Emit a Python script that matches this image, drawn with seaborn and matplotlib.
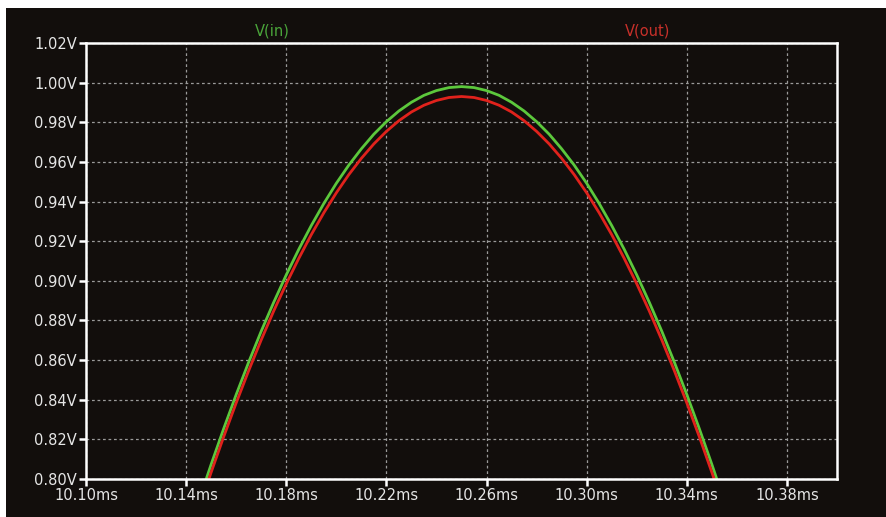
import matplotlib
matplotlib.use("Agg")
import matplotlib.pyplot as plt
import matplotlib.patches as mpatches
import numpy as np
import pandas as pd
import seaborn as sns

# Transient simulation samples around one positive half-cycle
time_ms = [10.145, 10.150, 10.155, 10.160, 10.165, 10.170, 10.175, 10.180,
           10.185, 10.190, 10.195, 10.200, 10.205, 10.210, 10.215, 10.220,
           10.225, 10.230, 10.235, 10.240, 10.245, 10.250, 10.255, 10.260,
           10.265, 10.270, 10.275, 10.280, 10.285, 10.290, 10.295, 10.300,
           10.305, 10.310, 10.315, 10.320, 10.325, 10.330, 10.335, 10.340,
           10.345, 10.350, 10.355]

v_in = [0.7886, 0.8074, 0.8254, 0.8426, 0.8590, 0.8746, 0.8892, 0.9030,
        0.9159, 0.9279, 0.9390, 0.9492, 0.9584, 0.9666, 0.9740, 0.9803,
        0.9857, 0.9901, 0.9936, 0.9960, 0.9975, 0.9980, 0.9975, 0.9960,
        0.9936, 0.9901, 0.9857, 0.9803, 0.9740, 0.9666, 0.9584, 0.9492,
        0.9390, 0.9279, 0.9159, 0.9030, 0.8892, 0.8746, 0.8590, 0.8426,
        0.8254, 0.8074, 0.7886]

v_out = [0.7846, 0.8034, 0.8213, 0.8384, 0.8547, 0.8702, 0.8848, 0.8985,
         0.9113, 0.9233, 0.9343, 0.9444, 0.9536, 0.9618, 0.9691, 0.9754,
         0.9808, 0.9852, 0.9886, 0.9910, 0.9925, 0.9930, 0.9925, 0.9910,
         0.9886, 0.9852, 0.9808, 0.9754, 0.9691, 0.9618, 0.9536, 0.9444,
         0.9343, 0.9233, 0.9113, 0.8985, 0.8848, 0.8702, 0.8547, 0.8384,
         0.8213, 0.8034, 0.7846]

x_ticks = [10.10, 10.14, 10.18, 10.22, 10.26, 10.30, 10.34, 10.38]
y_ticks = [0.80, 0.82, 0.84, 0.86, 0.88, 0.90, 0.92, 0.94, 0.96, 0.98, 1.00, 1.02]
trace_names = ["V(in)", "V(out)"]

BG = "#120e0c"
FG = "#e6e6e6"
GREEN = "#5cc83c"
RED = "#e0221c"

sns.set_style("dark", {
    "axes.facecolor": BG,
    "figure.facecolor": BG,
    "axes.edgecolor": "white",
    "grid.color": "#9a9a9a",
    "text.color": FG,
    "xtick.color": "white",
    "ytick.color": "white",
    "axes.labelcolor": FG,
})
plt.rcParams["font.family"] = ["DejaVu Sans"]

df = pd.DataFrame({
    "t": time_ms * 2,
    "v": v_in + v_out,
    "trace": [trace_names[0]] * len(time_ms) + [trace_names[1]] * len(time_ms),
})

fig = plt.figure(figsize=(8.86, 5.17), dpi=100, facecolor=BG)
# thin white margins along the top and left edges
fig.patches.append(mpatches.Rectangle((0, 1 - 8 / 517), 1, 8 / 517,
                                      transform=fig.transFigure,
                                      facecolor="white", edgecolor="none"))
fig.patches.append(mpatches.Rectangle((0, 0), 6 / 886, 1,
                                      transform=fig.transFigure,
                                      facecolor="white", edgecolor="none"))
ax = fig.add_axes([86 / 886, 1 - 479 / 517, (837 - 86) / 886, (479 - 43) / 517])

sns.lineplot(data=df, x="t", y="v", hue="trace", palette=[GREEN, RED],
             linewidth=2.0, legend=False, ax=ax, sort=False)

ax.set_xlim(10.10, 10.40)
ax.set_ylim(0.80, 1.02)
ax.set_xticks(x_ticks)
ax.set_yticks(y_ticks)
ax.set_xticklabels([f"{v:.2f}ms" for v in x_ticks])
ax.set_yticklabels([f"{v:.2f}V" for v in y_ticks])
ax.set_xlabel("")
ax.set_ylabel("")

ax.grid(True, color="#9a9a9a", linestyle=(0, (2.2, 2.2)), linewidth=0.9)
ax.set_axisbelow(True)
for sp in ax.spines.values():
    sp.set_color("white")
    sp.set_linewidth(1.8)
    sp.set_zorder(5)

ax.tick_params(axis="both", direction="out", length=5, width=1.8,
               colors="white", labelcolor=FG, labelsize=10.5, pad=1.5,
               bottom=True, left=True)

fig.text(272 / 886, 1 - 31.5 / 517, trace_names[0], color="#4aa53a",
         fontsize=10.5, ha="center", va="center")
fig.text(648 / 886, 1 - 31.5 / 517, trace_names[1], color="#c8302a",
         fontsize=10.5, ha="center", va="center")

fig.savefig("out.png", dpi=100, facecolor=BG)
